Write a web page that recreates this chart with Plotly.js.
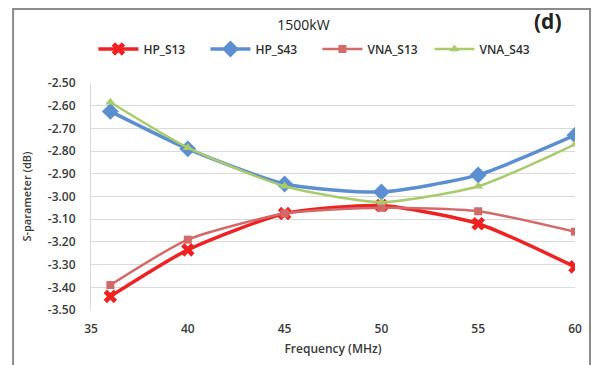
<!DOCTYPE html>
<html>
<head>
<meta charset="utf-8">
<script src="https://cdn.plot.ly/plotly-3.0.1.min.js"></script>
<style>
html,body{margin:0;padding:0;background:#fff;}
#chart{width:595px;height:365px;}
</style>
</head>
<body>
<div id="chart"></div>
<script>
var freq = [36, 40, 45, 50, 55, 60];
var hpS13 = [-3.44, -3.235, -3.075, -3.04, -3.12, -3.31];
var hpS43 = [-2.625, -2.79, -2.945, -2.98, -2.905, -2.73];
var vnaS13 = [-3.39, -3.19, -3.075, -3.05, -3.065, -3.155];
var vnaS43 = [-2.585, -2.785, -2.955, -3.025, -2.955, -2.77];
var xTickVals = [35, 40, 45, 50, 55, 60];
var xTickText = ["35", "40", "45", "50", "55", "60"];
var yTickVals = [-2.5, -2.6, -2.7, -2.8, -2.9, -3.0, -3.1, -3.2, -3.3, -3.4, -3.5];
var yTickText = ["-2.50", "-2.60", "-2.70", "-2.80", "-2.90", "-3.00", "-3.10", "-3.20", "-3.30", "-3.40", "-3.50"];

var FONT = "Open Sans, Lato, sans-serif";
var TXT = "#3a3a3a";

var traces = [
  {name: "HP_S13", x: freq, y: hpS13, mode: "lines+markers",
   line: {color: "#ee2222", width: 3.5, shape: "spline", smoothing: 0.6},
   marker: {symbol: "x", size: 12, color: "#ee2222"}},
  {name: "HP_S43", x: freq, y: hpS43, mode: "lines+markers",
   line: {color: "#5b8fcf", width: 3.5, shape: "spline", smoothing: 0.6},
   marker: {symbol: "diamond", size: 13, color: "#5b8fcf"}},
  {name: "VNA_S13", x: freq, y: vnaS13, mode: "lines+markers",
   line: {color: "#d26a6a", width: 2.5, shape: "spline", smoothing: 0.6},
   marker: {symbol: "square", size: 8, color: "#d26a6a"}},
  {name: "VNA_S43", x: freq, y: vnaS43, mode: "lines+markers",
   line: {color: "#aacb6c", width: 2.5, shape: "spline", smoothing: 0.6},
   marker: {symbol: "triangle-up", size: 9, color: "#aacb6c"}}
];

var layout = {
  width: 595, height: 365,
  margin: {l: 91, r: 20, t: 83, b: 55},
  paper_bgcolor: "#ffffff", plot_bgcolor: "#ffffff",
  font: {family: FONT, size: 12, color: TXT},
  title: {text: "1500kW", x: 0.51, xanchor: "center", y: 0.93, yanchor: "middle",
          font: {family: FONT, size: 14, color: "#222222"}},
  showlegend: true,
  legend: {orientation: "h", x: 0.005, xanchor: "left", y: 1.15, yanchor: "middle",
           font: {family: FONT, size: 12, color: "#303030", weight: 600}, itemwidth: 40,
           entrywidth: 57, entrywidthmode: "pixels",
           tracegroupgap: 0, bgcolor: "rgba(0,0,0,0)"},
  xaxis: {range: [35, 60], tickmode: "array", tickvals: xTickVals, ticktext: xTickText,
          showgrid: false, zeroline: false, showline: false, ticks: "",
          ticklabelstandoff: 10,
          tickfont: {family: FONT, size: 12, color: TXT, weight: 600},
          title: {text: "Frequency (MHz)", standoff: 8, font: {family: FONT, size: 12, color: TXT, weight: 600}}},
  yaxis: {range: [-3.5, -2.5], tickmode: "array", tickvals: yTickVals, ticktext: yTickText,
          showgrid: true, gridcolor: "#d9d9d9", gridwidth: 1, zeroline: false,
          showline: true, linecolor: "#d9d9d9", linewidth: 1, ticks: "",
          ticklabelstandoff: 12,
          tickfont: {family: FONT, size: 12, color: TXT, weight: 600},
          title: {text: "S-parameter (dB)", standoff: 14, font: {family: FONT, size: 11, color: TXT, weight: 600}}},
  shapes: [{type: "rect", xref: "paper", yref: "paper",
            x0: -0.161, x1: 1.031, y0: -0.3, y1: 1.326,
            line: {color: "#8c8c8c", width: 2}, fillcolor: "rgba(0,0,0,0)", layer: "above"}],
  annotations: [{text: "<b>(d)</b>", xref: "paper", yref: "paper", x: 0.945, y: 1.275,
                 xanchor: "center", yanchor: "middle", showarrow: false,
                 font: {family: FONT, size: 21, color: "#222222"}}]
};

Plotly.newPlot("chart", traces, layout, {displayModeBar: false, staticPlot: true});
</script>
</body>
</html>
